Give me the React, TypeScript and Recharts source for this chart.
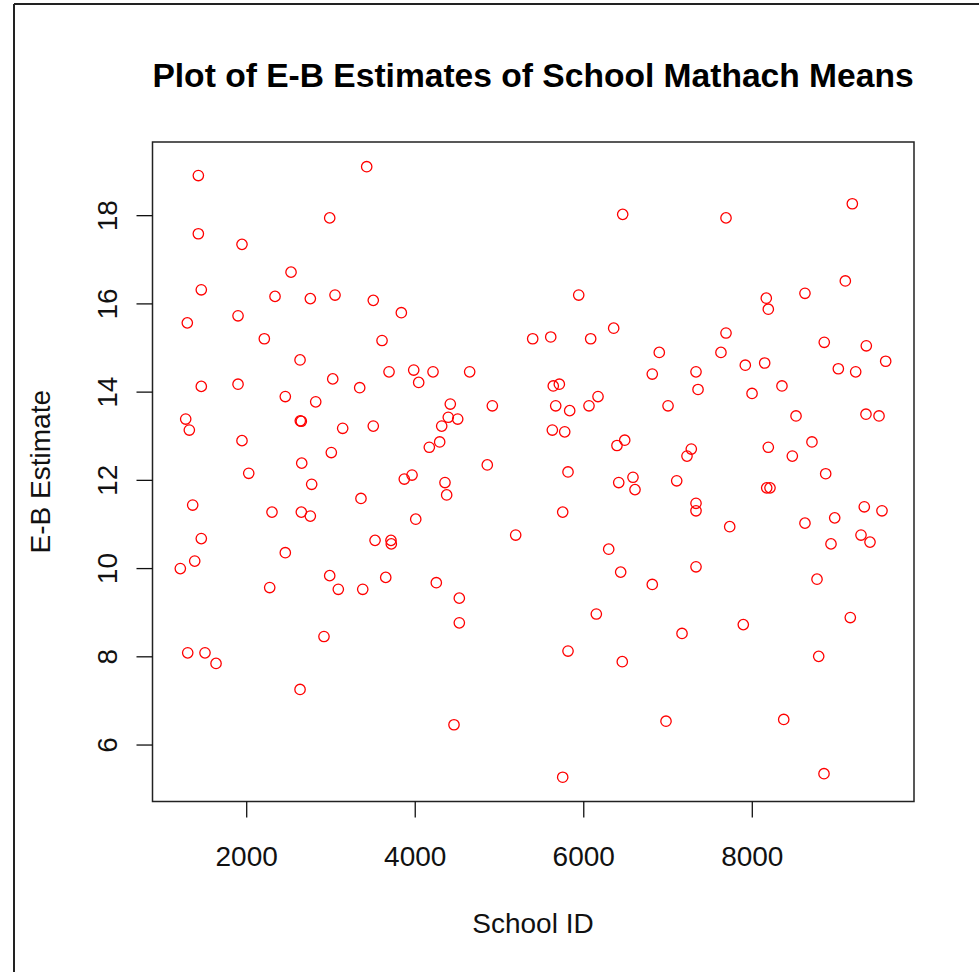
import React from "react";
import { ScatterChart, Scatter, XAxis, YAxis, ReferenceArea } from "recharts";

const schoolIds: number[] = [
  1426, 2985, 1426, 1944, 2526, 1461, 2336, 2755, 3048, 1295, 1897, 2209, 2633, 1461, 1897, 3021, 2458, 2819, 1276, 1319, 2636, 2648, 3139, 1944, 3004, 2653, 2024,
  3424, 3502, 3835, 3606, 5394, 3689, 3982, 4041, 4211, 4646, 3341, 4416, 4915, 4392, 4504, 4314, 3502, 4290, 4167, 4855, 3870, 3962,
  6462, 7688, 5940, 5608, 6082, 6355, 7688, 7628, 6896, 6813, 7332, 7356, 5638, 5710, 5667, 5833, 6062, 6169, 7000, 5627, 5774, 6394, 6486, 7225, 7276, 5813,
  9187, 9104, 8625, 8166, 8190, 8854, 9353, 9583, 7917, 8147, 9021, 9227, 8352, 7997, 8519, 9349, 9504, 8190, 8708, 8475, 8871,
  2771, 1359, 2300, 2648, 2755, 1461, 2458, 1383, 1212, 2985, 3087, 2273, 2917, 1300, 1505, 1636, 2633,
  4353, 4373, 3356, 4006, 5192, 3523, 3712, 3716, 3650, 3377, 4250, 4523, 4523, 4460,
  6415, 6584, 6608, 7103, 5750, 7332, 7332, 7732, 6296, 6438, 6813, 7332, 6149, 7166, 5813, 6457, 6976, 5750,
  8171, 8210, 9329, 9539, 8625, 8978, 9290, 9397, 8934, 8768, 9163, 7893, 8788, 8373, 8851,
];

const ebEstimates: number[] = [
  18.91, 17.95, 17.59, 17.35, 16.72, 16.32, 16.17, 16.12, 16.2, 15.57, 15.73, 15.21, 14.73, 14.13, 14.18, 14.3, 13.9, 13.78, 13.39, 13.14, 13.35, 13.34, 13.18, 12.9, 12.63, 12.39, 12.16,
  19.11, 16.08, 15.8, 15.17, 15.21, 14.46, 14.5, 14.22, 14.46, 14.46, 14.1, 13.73, 13.69, 13.43, 13.39, 13.23, 13.23, 12.87, 12.75, 12.35, 12.03, 12.12,
  18.03, 17.95, 16.2, 15.25, 15.21, 15.45, 15.34, 14.9, 14.9, 14.41, 14.46, 14.06, 14.14, 14.18, 13.69, 13.58, 13.69, 13.9, 13.69, 13.14, 13.1, 12.79, 12.91, 12.55, 12.71, 12.19,
  18.27, 16.52, 16.24, 16.13, 15.88, 15.13, 15.05, 14.7, 14.61, 14.66, 14.53, 14.46, 14.14, 13.97, 13.46, 13.5, 13.46, 12.75, 12.87, 12.55, 12.15,
  11.91, 11.44, 11.28, 11.28, 11.19, 10.68, 10.36, 10.17, 10.0, 9.84, 9.53, 9.57, 8.46, 8.09, 8.09, 7.85, 7.26,
  11.95, 11.67, 11.59, 11.12, 10.76, 10.64, 10.64, 10.56, 9.8, 9.53, 9.68, 9.33, 8.77, 6.46,
  11.95, 12.07, 11.79, 11.99, 11.28, 11.48, 11.31, 10.95, 10.44, 9.92, 9.64, 10.04, 8.97, 8.53, 8.13, 7.89, 6.54, 5.27,
  11.83, 11.83, 11.4, 11.31, 11.03, 11.15, 10.76, 10.6, 10.56, 9.76, 8.89, 8.73, 8.01, 6.58, 5.35,
];

const xTicks: number[] = [2000, 4000, 6000, 8000];
const yTicks: number[] = [6, 8, 10, 12, 14, 16, 18];
const xDomain: [number, number] = [882, 9919];
const yDomain: [number, number] = [4.72, 19.67];

const titleText = "Plot of E-B Estimates of School Mathach Means";
const xLabel = "School ID";
const yLabel = "E-B Estimate";

const data = schoolIds.map((id, i) => ({ id, eb: ebEstimates[i] }));

const FONT = "'Liberation Sans', Arial, Helvetica, sans-serif";

const XTick = (props: any) => {
  const { x, payload } = props;
  return (
    <text x={x} y={865.7} textAnchor="middle" fontFamily={FONT} fontSize={28} fill="#111">
      {payload.value}
    </text>
  );
};

const YTick = (props: any) => {
  const { y, payload } = props;
  const bx = 117.3;
  return (
    <text
      x={bx}
      y={y}
      transform={`rotate(-90, ${bx}, ${y})`}
      textAnchor="middle"
      fontFamily={FONT}
      fontSize={28}
      fill="#111"
    >
      {payload.value}
    </text>
  );
};

const RingShape = (props: any) => {
  const { cx, cy } = props;
  if (cx == null || cy == null) return <g />;
  return <circle cx={cx} cy={cy} r={5.2} fill="none" stroke="#ff0000" strokeWidth={1.3} />;
};

export default function App() {
  return (
    <div style={{ position: "absolute", left: 0, top: 0, width: 979, height: 972, background: "#fff" }}>
      <ScatterChart
        width={979}
        height={972}
        margin={{ top: 142, right: 65, bottom: 70.5, left: 20 }}
      >
        <XAxis
          type="number"
          dataKey="id"
          domain={xDomain}
          ticks={xTicks}
          allowDataOverflow
          axisLine={false}
          tickLine={{ stroke: "#111", strokeWidth: 1.3 }}
          tickSize={16}
          height={100}
          tick={<XTick />}
          interval={0}
        />
        <YAxis
          type="number"
          dataKey="eb"
          domain={yDomain}
          ticks={yTicks}
          allowDataOverflow
          axisLine={false}
          tickLine={{ stroke: "#111", strokeWidth: 1.3 }}
          tickSize={16}
          width={132.5}
          tick={<YTick />}
          interval={0}
        />
        <ReferenceArea
          x1={xDomain[0]}
          x2={xDomain[1]}
          y1={yDomain[0]}
          y2={yDomain[1]}
          fill="none"
          fillOpacity={0}
          stroke="#222"
          strokeWidth={1.5}
        />
        <Scatter data={data} isAnimationActive={false} shape={<RingShape />} />
      </ScatterChart>
      <svg
        width={979}
        height={972}
        style={{ position: "absolute", left: 0, top: 0, pointerEvents: "none" }}
      >
        <line x1={14} y1={4} x2={979} y2={4} stroke="#222" strokeWidth={2} />
        <line x1={14} y1={4} x2={14} y2={972} stroke="#222" strokeWidth={2} />
        <text x={533} y={87.3} textAnchor="middle" fontFamily={FONT} fontWeight="bold" fontSize={33.6} fill="#000">
          {titleText}
        </text>
        <text x={533} y={933} textAnchor="middle" fontFamily={FONT} fontSize={28} fill="#111">
          {xLabel}
        </text>
        <text
          x={50}
          y={471.7}
          transform="rotate(-90, 50, 471.7)"
          textAnchor="middle"
          fontFamily={FONT}
          fontSize={28}
          fill="#111"
        >
          {yLabel}
        </text>
      </svg>
    </div>
  );
}
